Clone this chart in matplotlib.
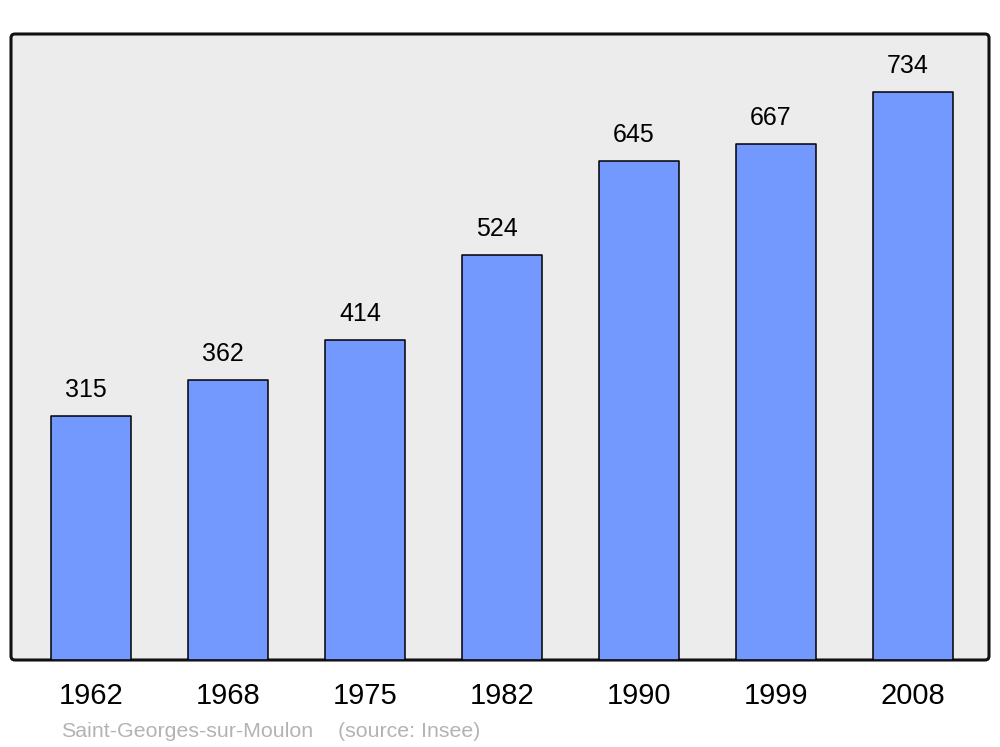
import matplotlib

matplotlib.use("Agg")
import matplotlib.pyplot as plt
from matplotlib.patches import FancyBboxPatch

years = ["1962", "1968", "1975", "1982", "1990", "1999", "2008"]
population = [315, 362, 414, 524, 645, 667, 734]
commune = "Saint-Georges-sur-Moulon"
source = "(source: Insee)"

plt.rcParams["font.family"] = ["Liberation Sans", "DejaVu Sans"]

fig = plt.figure(figsize=(10, 7.47), dpi=100)
ax = fig.add_axes([0.011, 0.1165, 0.978, 0.838])
ax.set_facecolor("none")
ax.set_zorder(2)

# rounded grey frame behind the bars
frame = FancyBboxPatch((0.11, 0.87), 9.78, 6.26, boxstyle="round,pad=0,rounding_size=0.04",
                       transform=fig.dpi_scale_trans, facecolor="#ececec",
                       edgecolor="#111111", lw=2.2, zorder=0)
fig.patches.append(frame)

xs = range(len(years))
ax.bar(xs, population, width=0.58, color="#7399ff", edgecolor="black", lw=1.1,
       joinstyle="round", zorder=2)
for x, v in zip(xs, population):
    ax.annotate(str(v), (x, v), xytext=(-5, 14), textcoords="offset pixels",
                ha="center", va="bottom", fontsize=18)

ax.set_xlim(-0.585, 6.555)
ax.set_ylim(0, 809)
ax.set_xticks(list(xs))
ax.set_xticklabels(years, fontsize=21)
ax.tick_params(axis="x", length=0, pad=16)
ax.set_yticks([])
for s in ax.spines.values():
    s.set_visible(False)

fig.text(0.061, 1 - 737 / 747, commune, color="#b3b3b3",
         fontsize=15.4, ha="left", va="baseline")
fig.text(0.338, 1 - 737 / 747, source, color="#b3b3b3",
         fontsize=15.4, ha="left", va="baseline")

fig.savefig("out.png", dpi=100)
